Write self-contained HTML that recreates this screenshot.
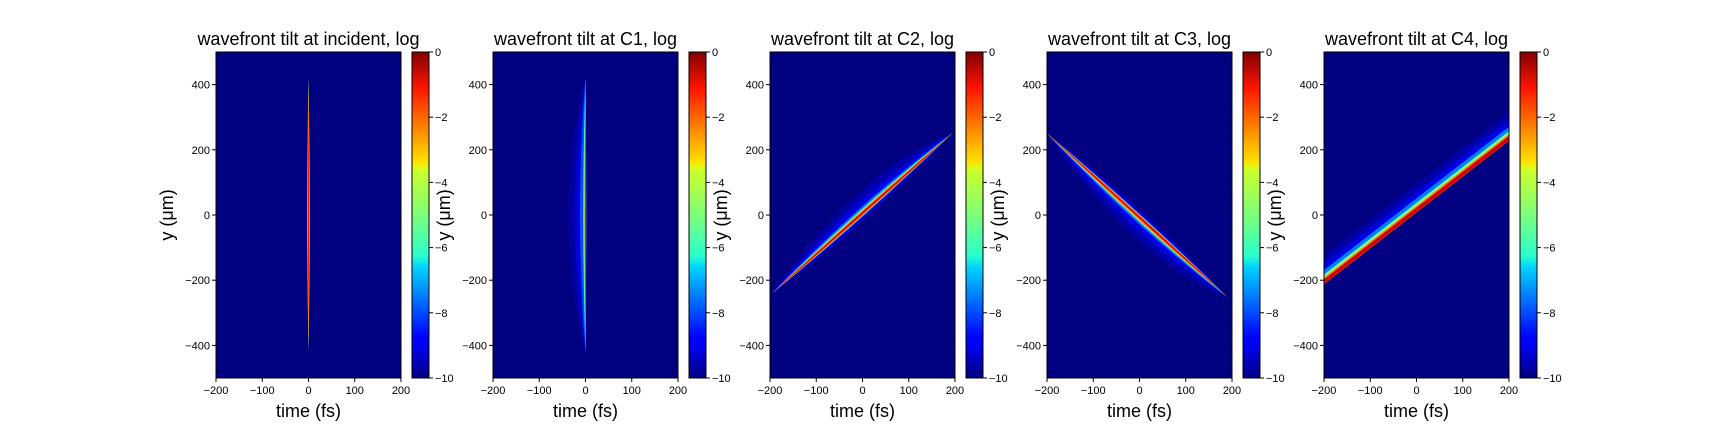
<!DOCTYPE html>
<html><head><meta charset="utf-8">
<style>
html,body{margin:0;padding:0;background:#fff;}
svg{display:block;font-family:"Liberation Sans","DejaVu Sans",sans-serif;}
</style></head>
<body>
<svg id="fig" width="1728" height="432" viewBox="0 0 1728 432" xmlns="http://www.w3.org/2000/svg">
<defs id="defs">
<linearGradient id="jet" x1="0" y1="1" x2="0" y2="0">
<stop offset="0" stop-color="#000080"/>
<stop offset="0.11" stop-color="#0000ff"/>
<stop offset="0.125" stop-color="#0000ff"/>
<stop offset="0.34" stop-color="#00d4ff"/>
<stop offset="0.375" stop-color="#29ffce"/>
<stop offset="0.5" stop-color="#7dff7a"/>
<stop offset="0.64" stop-color="#ceff29"/>
<stop offset="0.66" stop-color="#ffe500"/>
<stop offset="0.89" stop-color="#ff1400"/>
<stop offset="1" stop-color="#800000"/>
</linearGradient>
</defs>
</svg>
<script>
// ---- data ----
const panelTitles = ["wavefront tilt at incident, log","wavefront tilt at C1, log","wavefront tilt at C2, log","wavefront tilt at C3, log","wavefront tilt at C4, log"];
const xTicks = [-200,-100,0,100,200];
const yTicks = [-400,-200,0,200,400];
const cbTicks = [0,-2,-4,-6,-8,-10];
// streak endpoints per panel [t, y] (fs, µm)
const streakStart = [[0,-420],[0,-420],[-195,-240],[-200,250],[-200,-205]];
const streakEnd   = [[0,420],[0,420],[195,252],[190,-252],[200,235]];
// vertical panels: [left extent (fs), right extent (fs), log level]
const bandsIncident = [[-3,3,-7],[-2,2,-4],[-1.2,1.2,-1.5]];
const bandsC1 = [[-38,1.5,-9.7],[-24,1.5,-9.2],[-12,1.5,-8],[-5,1.5,-6],[-2.5,1.2,-3],[-1.2,0.8,-1]];
// tilted panels: [offset (µm), half width (µm), log level]
const bandsC2 = [[45,50,-9.6],[25,30,-9],[10,16,-7.5],[4,11,-5],[1,8,-2.5],[0,4,-1]];
const bandsC3 = [[-45,50,-9.6],[-25,30,-9],[-10,16,-7.5],[-4,11,-5],[-1,8,-2.5],[0,4,-1]];
const bandsC4 = [[42,40,-9.6],[28,28,-9],[16,20,-7.5],[8,14,-5],[3,10,-2.5],[1,7,-1.2],[1,3,-0.5]];
const panelBands = [bandsIncident,bandsC1,bandsC2,bandsC3,bandsC4];

const NS="http://www.w3.org/2000/svg";
const svg=document.getElementById('fig');
const defs=document.getElementById('defs');
const PL=[216,493,770,1047,1324], PW=185, PT=52, PB=378;
function el(tag,attrs,parent){const e=document.createElementNS(NS,tag);for(const k in attrs)e.setAttribute(k,attrs[k]);(parent||svg).appendChild(e);return e;}
function jet(v){
  const r=Math.min(Math.max(Math.min(4*v-1.5,-4*v+4.5),0),1);
  const g=Math.min(Math.max(Math.min(4*v-0.5,-4*v+3.5),0),1);
  const b=Math.min(Math.max(Math.min(4*v+0.5,-4*v+2.5),0),1);
  return `rgb(${Math.round(r*255)},${Math.round(g*255)},${Math.round(b*255)})`;
}
function lvl(l){return jet((l+10)/10);}

panelTitles.forEach((title,i)=>{
  const L=PL[i];
  const xs=t=>L+(t+200)/400*PW;
  const ys=y=>PB-(y+500)/1000*(PB-PT);
  const cp=el('clipPath',{id:'clip'+i},defs);
  el('rect',{x:L,y:PT,width:PW,height:PB-PT},cp);
  const g=el('g',{});
  
  
  const hm=el('g',{'clip-path':`url(#clip${i})`},g);
  
  
  el('rect',{x:L,y:PT,width:PW,height:PB-PT,fill:'#000080'},hm);
  const [t0,y0]=streakStart[i],[t1,y1]=streakEnd[i];
  panelBands[i].forEach((b)=>{
    let d, lv;
    if(i<2){
      const [lt,rt,l]=b; lv=l;
      const xc=xs(t0), ya=ys(y0), yb=ys(y1), ym=(ya+yb)/2;
      const xl=xs(lt), xr=xs(rt);
      d=`M${xc},${ya} Q${2*xl-xc},${ym} ${xc},${yb} Q${2*xr-xc},${ym} ${xc},${ya}Z`;
    } else {
      const [off,hw,l]=b; lv=l;
      const h=(ys(0)-ys(hw));
      const ax=xs(t0),ay=ys(y0+off),bx=xs(t1),by=ys(y1+off);
      if(i===4){
        d=`M${ax},${ay-h} L${bx},${by-h} L${bx},${by+h} L${ax},${ay+h}Z`;
      } else {
        const sx=xs(t0),sy=ys(y0),ex=xs(t1),ey=ys(y1);
        const mx=(ax+bx)/2,my=(ay+by)/2;
        d=`M${sx},${sy} Q${mx},${my-2*h} ${ex},${ey} Q${mx},${my+2*h} ${sx},${sy}Z`;
      }
    }
    const p=el('path',{d:d,fill:lvl(lv)},hm);
    
    
  });
  const fr=el('rect',{x:L,y:PT,width:PW,height:PB-PT,fill:'none',stroke:'#000','stroke-width':1},g);
  
  
  xTicks.forEach(t=>{
    el('line',{x1:xs(t),x2:xs(t),y1:PB,y2:PB+4,stroke:'#000'},g);
    const tx=el('text',{x:xs(t),y:PB+16,'font-size':11,'text-anchor':'middle',fill:'#000'},g);
    tx.textContent=String(t).replace('-','\u2212');
    
    
  });
  yTicks.forEach(y=>{
    el('line',{x1:L-4,x2:L,y1:ys(y),y2:ys(y),stroke:'#000'},g);
    const tx=el('text',{x:L-6,y:ys(y)+4,'font-size':11,'text-anchor':'end',fill:'#000'},g);
    tx.textContent=String(y).replace('-','\u2212');
    
    
  });
  const tt=el('text',{x:L+PW/2,y:45,'font-size':18,'text-anchor':'middle',fill:'#000'},g);
  tt.textContent=title;
  
  
  const xl=el('text',{x:L+PW/2,y:417,'font-size':18,'text-anchor':'middle',fill:'#000'},g);
  xl.textContent='time (fs)';
  
  
  const yl=el('text',{x:0,y:0,'font-size':18,'text-anchor':'middle',fill:'#000',transform:`translate(${L-43},${ys(0)}) rotate(-90)`},g);
  yl.textContent='y (\u03bcm)';
  
  
  const CL=L+196, CW=17;
  const cb=el('rect',{x:CL,y:PT,width:CW,height:PB-PT,fill:'url(#jet)',stroke:'#000','stroke-width':1},g);
  
  
  cbTicks.forEach(v=>{
    const y=PT+(0-v)/10*(PB-PT);
    el('line',{x1:CL+CW,x2:CL+CW+4,y1:y,y2:y,stroke:'#000'},g);
    const tx=el('text',{x:CL+CW+6,y:y+4,'font-size':11,fill:'#000'},g);
    tx.textContent=String(v).replace('-','\u2212');
    
    
  });
});
</script>
</body></html>
